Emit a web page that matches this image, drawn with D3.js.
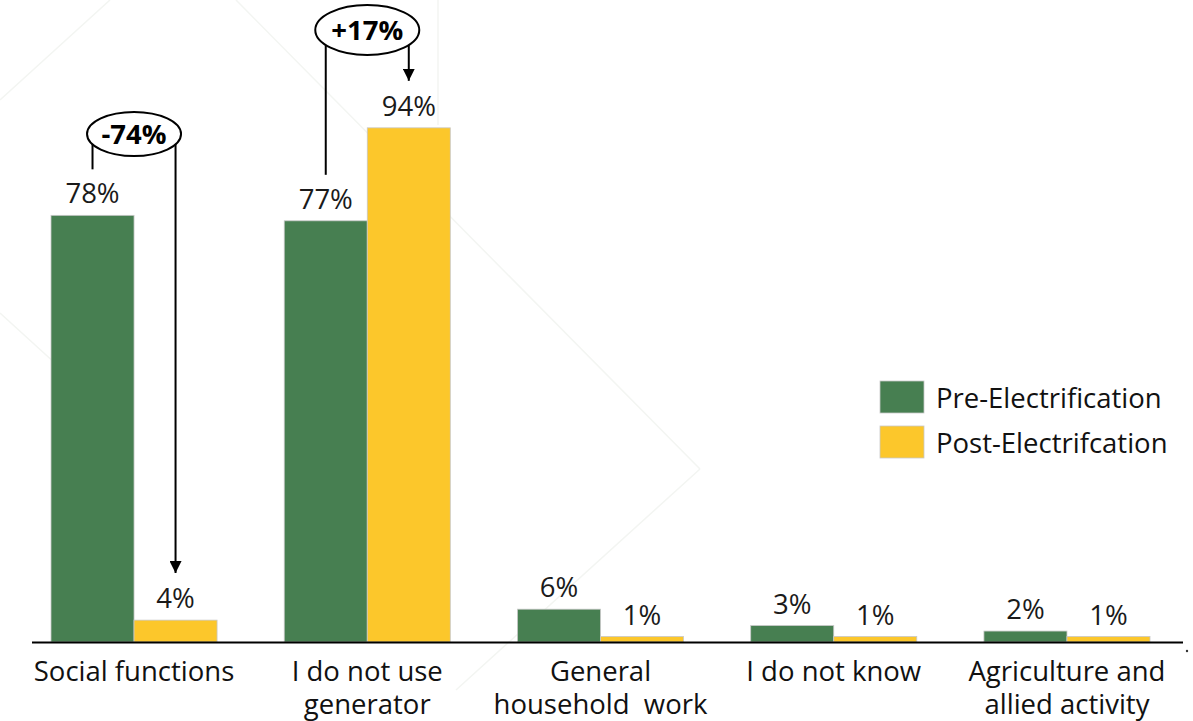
<!DOCTYPE html>
<html>
<head>
<meta charset="utf-8">
<script src="https://cdn.jsdelivr.net/npm/d3@7"></script>
<style>
  html, body { margin: 0; padding: 0; background: #ffffff; }
  svg { display: block; }
  text { font-family: "Open Sans", Lato, sans-serif; }
</style>
</head>
<body>
<svg id="chart" width="1193" height="721"></svg>
<script>
// Share of households using a generator, by purpose
const categories = [
  ["Social functions"],
  ["I do not use", "generator"],
  ["General", "household  work"],
  ["I do not know"],
  ["Agriculture and", "allied activity"]
];
const seriesNames = ["Pre-Electrification", "Post-Electrifcation"];
const preValues  = [78, 77, 6, 3, 2];
const postValues = [4, 94, 1, 1, 1];
const changeLabels = ["-74%", "+17%"];   // shown for the first two categories

const colors = ["#477f51", "#fcc72b"];
const FS = 27.5;

const svg = d3.select("#chart");

// faint decorative background lines
const bg = svg.append("g").attr("stroke", "#f3f5f2").attr("stroke-width", 1.5).attr("fill", "none");
[[0, 100, 110, 0], [236, 0, 700, 469], [700, 469, 456, 690], [0, 313, 90, 395], [438, 0, 438, 125]]
  .forEach(s => bg.append("line").attr("x1", s[0]).attr("y1", s[1]).attr("x2", s[2]).attr("y2", s[3]));

const keys = categories.map(c => c.join(" "));
const x = d3.scaleBand().domain(keys).range([51, 1150]).paddingInner(0.288).paddingOuter(0);
const xs = d3.scaleBand().domain([0, 1]).range([0, x.bandwidth()]).padding(0);
const y = d3.scaleLinear().domain([0, 100]).range([642, 95]);

const rows = keys.map((k, i) => ({ key: k, lines: categories[i], vals: [preValues[i], postValues[i]] }));

const groups = svg.append("g").selectAll("g").data(rows).join("g")
  .attr("transform", d => `translate(${x(d.key)},0)`);

groups.selectAll("rect").data(d => d.vals.map((v, j) => ({ v, j }))).join("rect")
  .attr("x", d => xs(d.j))
  .attr("width", xs.bandwidth())
  .attr("y", d => y(d.v))
  .attr("height", d => y(0) - y(d.v))
  .attr("fill", d => colors[d.j])
  .attr("stroke", "#c8c8c8")
  .attr("stroke-width", 0.8);

groups.selectAll("text.val").data(d => d.vals.map((v, j) => ({ v, j }))).join("text")
  .attr("class", "val")
  .attr("x", d => xs(d.j) + xs.bandwidth() / 2)
  .attr("y", d => y(d.v) - 12)
  .attr("text-anchor", "middle")
  .attr("font-size", FS)
  .attr("fill", "#1a1a1a")
  .text(d => d.v + "%");

// category axis
const axis = d3.axisBottom(x).tickSize(0).tickFormat("");
svg.append("g").attr("transform", `translate(0,${y(0)})`).call(axis)
  .call(g => g.select(".domain").remove());
svg.append("line").attr("x1", 32).attr("x2", 1183).attr("y1", y(0) + 0.5).attr("y2", y(0) + 0.5)
  .attr("stroke", "#000").attr("stroke-width", 2);

svg.append("g").selectAll("text").data(rows).join("text")
  .attr("x", d => x(d.key) + x.bandwidth() / 2)
  .attr("y", 681)
  .attr("text-anchor", "middle")
  .attr("font-size", FS)
  .attr("fill", "#111")
  .style("white-space", "pre")
  .selectAll("tspan").data(d => d.lines).join("tspan")
  .attr("x", function () { return d3.select(this.parentNode).attr("x"); })
  .attr("dy", (d, i) => i === 0 ? 0 : 33)
  .text(d => d);

// change callouts between pre and post bars
svg.append("defs").append("marker")
  .attr("id", "arrow").attr("viewBox", "0 0 10 10").attr("refX", 10).attr("refY", 5)
  .attr("markerWidth", 12).attr("markerHeight", 12).attr("markerUnits", "userSpaceOnUse")
  .attr("orient", "auto")
  .append("path").attr("d", "M0,0 L10,5 L0,10 Z").attr("fill", "#000");

const callouts = [
  { i: 0, cy: 134, rx: 47, ry: 22 },
  { i: 1, cy: 30, rx: 52, ry: 25 }
];
callouts.forEach((c, n) => {
  const k = keys[c.i];
  const cx = x(k) + x.bandwidth() / 2;
  const xl = x(k) + xs(0) + xs.bandwidth() / 2;
  const xr = x(k) + xs(1) + xs.bandwidth() / 2;
  const edgeY = xx => c.cy + c.ry * Math.sqrt(Math.max(0, 1 - Math.pow((xx - cx) / c.rx, 2)));
  const g = svg.append("g");
  // left leg ends above the pre label, right leg points at the post label
  g.append("line").attr("x1", xl).attr("x2", xl).attr("y1", edgeY(xl))
    .attr("y2", y(preValues[c.i]) - 46).attr("stroke", "#000").attr("stroke-width", 2);
  g.append("line").attr("x1", xr).attr("x2", xr).attr("y1", edgeY(xr))
    .attr("y2", y(postValues[c.i]) - 47).attr("stroke", "#000").attr("stroke-width", 2)
    .attr("marker-end", "url(#arrow)");
  g.append("ellipse").attr("cx", cx).attr("cy", c.cy).attr("rx", c.rx).attr("ry", c.ry)
    .attr("fill", "#fff").attr("stroke", "#000").attr("stroke-width", 2);
  g.append("text").attr("x", cx).attr("y", c.cy + 10).attr("text-anchor", "middle")
    .attr("font-size", FS).attr("font-weight", "bold").attr("fill", "#000")
    .text(changeLabels[n]);
});

// legend
const legend = svg.append("g").attr("transform", "translate(880,381)");
seriesNames.forEach((s, j) => {
  const row = legend.append("g").attr("transform", `translate(0,${j * 45})`);
  row.append("rect").attr("width", 44).attr("height", 32).attr("fill", colors[j])
    .attr("stroke", "#c8c8c8").attr("stroke-width", 0.8);
  row.append("text").attr("x", 56).attr("y", 27).attr("font-size", FS).attr("fill", "#111").text(s);
});

// small mark at the right end of the axis
svg.append("circle").attr("cx", 1187).attr("cy", 651).attr("r", 1.2).attr("fill", "#333");
</script>
</body>
</html>
